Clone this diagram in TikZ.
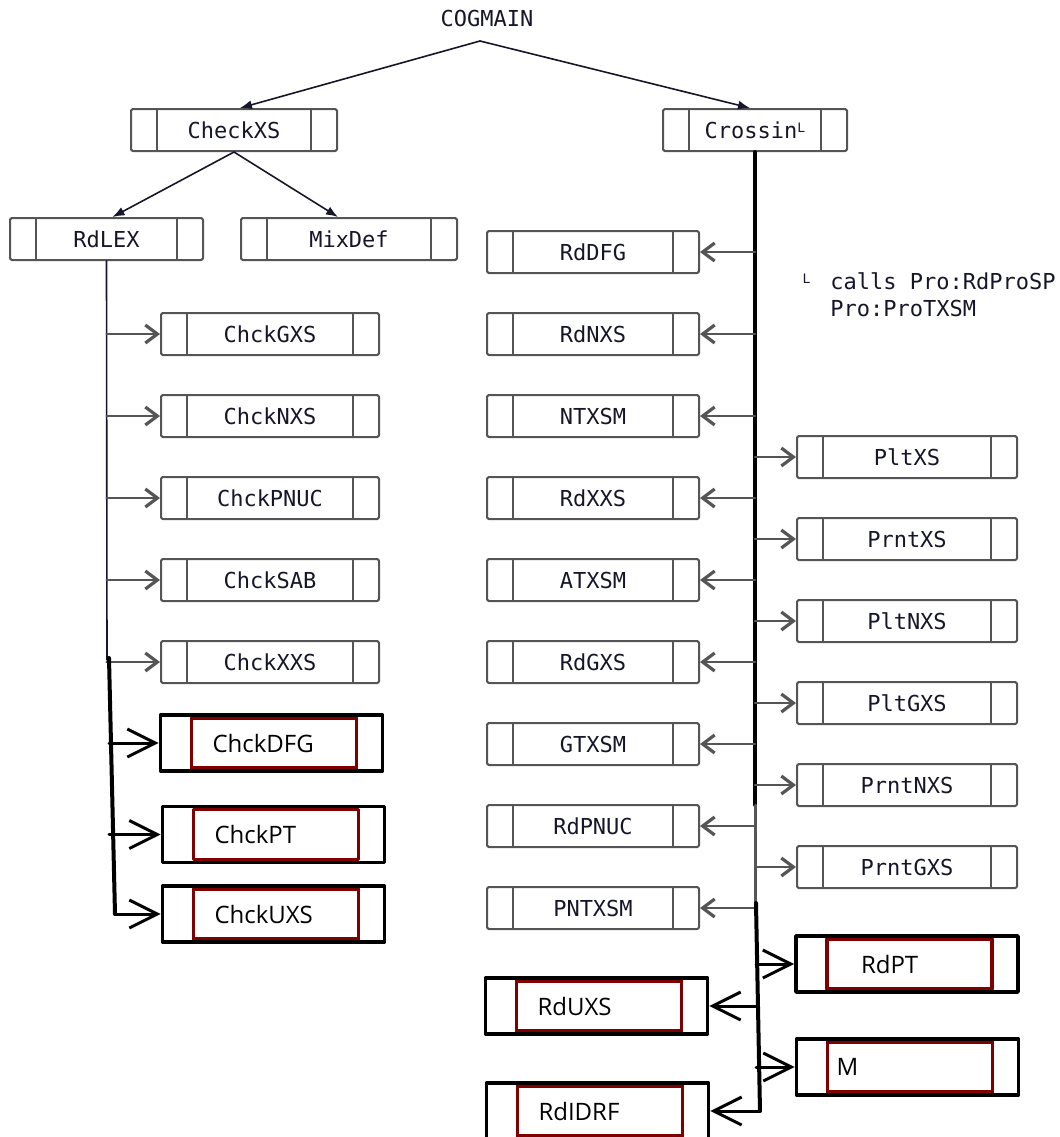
\documentclass[tikz,border=0pt]{standalone}
\usepackage{fontspec}
\usepackage{xcolor}
\usepackage{tikz}
\usetikzlibrary{arrows.meta,positioning,calc}
\newfontfamily\codefont{DejaVu Sans Mono}
\newfontfamily\boxsans{Open Sans}
\definecolor{boxgray}{HTML}{555555}
\definecolor{ink}{HTML}{16162A}
\definecolor{newred}{HTML}{7F0000}
\newcommand{\lmark}{\raisebox{0.5ex}{\fontsize{6.5}{6.5}\selectfont L}}
\tikzset{
    every picture/.style={line cap=round,line join=round},
    callbox/.style={draw=boxgray,line width=1pt,rounded corners=0.8pt,
      minimum height=21pt,inner sep=0pt,text=ink,
      font=\codefont\fontsize{11}{13}\selectfont,
      path picture={\draw[boxgray,line width=1pt]
        ([xshift=13pt]path picture bounding box.north west) --
        ([xshift=13pt]path picture bounding box.south west)
        ([xshift=-13pt]path picture bounding box.north east) --
        ([xshift=-13pt]path picture bounding box.south east);}},
    newbox/.style={draw=black,line width=1.8pt,minimum height=28pt,
      text width=59pt,align=left,inner xsep=26pt,inner ysep=0pt,
      font=\boxsans\fontsize{12}{14}\selectfont,
      path picture={\draw[newred,line width=1.6pt]
        ([shift={(15.5pt,-1.5pt)}]path picture bounding box.north west) rectangle
        ([shift={(-13pt,1.5pt)}]path picture bounding box.south east);}},
    treearrow/.style={-{Latex[length=6pt,width=4.5pt]},draw=ink,line width=0.8pt},
    callarrow/.style={-{Straight Barb[length=6pt,width=9pt,line width=1.6pt]},
      draw=boxgray,line width=1.1pt},
    newarrow/.style={-{Straight Barb[length=14pt,width=14pt,line width=1.5pt]},
      draw=black,line width=1.5pt},
    spine/.style={draw=black,line width=2pt}
}
\begin{document}
\begin{tikzpicture}[x=0.5pt,y=-0.5pt]
  \clip (0,0) rectangle (1060,1137);
  % top of the tree
  \node[font=\codefont\fontsize{11}{13}\selectfont,text=ink] (cogmain) at (487,18) {COGMAIN};
  \coordinate (fork) at (480,41);
  \node[callbox,minimum width=103pt] (checkxs) at (234,130) {CheckXS};
  \node[callbox,minimum width=92pt] (crossin) at (755,130) {Crossin\lmark};
  \draw[treearrow] (fork) -- ([xshift=3pt]checkxs.north);
  \draw[treearrow] (fork) -- ([xshift=-2.5pt]crossin.north);
  \node[callbox,minimum width=96.5pt] (rdlex) at (106.5,239) {RdLEX};
  \node[callbox,minimum width=108pt] (mixdef) at (349,239) {MixDef};
  \draw[treearrow] (checkxs.south) -- ([xshift=3pt]rdlex.north);
  \draw[treearrow] (checkxs.south) -- ([xshift=-5.5pt]mixdef.north);
  \node[font=\codefont\fontsize{11}{13.5}\selectfont,text=ink,align=left,
    anchor=north west,inner sep=0pt] (note) at (830,272)
    {\llap{\lmark\hspace{10pt}}calls Pro:RdProSP\\Pro:ProTXSM};

  % left branch
  \coordinate (ltop) at (109,658);
  \coordinate (lbot) at (115,914);
  \draw[ink,line width=0.8pt] (rdlex.south) -- (107,660);
  \foreach \n/\y/\t in {1/334/ChckGXS,2/416/ChckNXS,3/498/ChckPNUC,4/580/ChckSAB,5/662/ChckXXS} {
    \node[callbox,minimum width=109pt] (chk\n) at (270,\y) {\t};
    \draw[callarrow] (rdlex.south |- chk\n.west) -- (chk\n.west);
  }
  \draw[spine] (ltop) -- (lbot);
  \node[newbox] (chckdfg) at (271.5,743) {ChckDFG};
  \node[newbox] (chckpt) at (273.5,834.5) {ChckPT};
  \node[newbox] (chckuxs) at (273.5,914) {ChckUXS};
  \draw[newarrow] (ltop |- chckdfg.west) -- (chckdfg.west);
  \draw[newarrow] (ltop |- chckpt.west) -- (chckpt.west);
  \draw[newarrow] (lbot) -- (chckuxs.west);

  % right branch
  \coordinate (rmid) at (755,805);
  \coordinate (rtop) at (756,903);
  \coordinate (rbot) at (760,1111);
  \draw[spine] (crossin.south) -- (rmid);
  \foreach \n/\y/\t in {1/252/RdDFG,2/334/RdNXS,3/416/NTXSM,4/498/RdXXS,5/580/ATXSM,
      6/662/RdGXS,7/744/GTXSM,8/826/RdPNUC,9/908/PNTXSM} {
    \node[callbox,minimum width=106pt] (rd\n) at (593,\y) {\t};
    \draw[callarrow] (crossin.south |- rd\n.east) -- (rd\n.east);
  }
  \draw[boxgray,line width=1.5pt] (rmid) -- (crossin.south |- rd9.east);
  \foreach \n/\y/\t in {1/457/PltXS,2/539/PrntXS,3/621/PltNXS,4/703/PltGXS,
      5/785/PrntNXS,6/867/PrntGXS} {
    \node[callbox,minimum width=110pt] (plt\n) at (907,\y) {\t};
    \draw[callarrow] (crossin.south |- plt\n.west) -- (plt\n.west);
  }
  \draw[spine] (rtop) -- (rbot);
  \node[newbox] (rdpt) at (907,964) {\hspace*{6.5pt}RdPT};
  \node[newbox] (rduxs) at (596.5,1006) {RdUXS};
  \node[newbox] (mbox) at (907.5,1067) {\hspace*{-6pt}M};
  \node[newbox] (rdidrf) at (597.5,1111) {RdIDRF};
  \draw[newarrow] (rtop |- rdpt.west) -- (rdpt.west);
  \draw[newarrow] (rtop |- rduxs.east) -- (rduxs.east);
  \draw[newarrow] (rtop |- mbox.west) -- (mbox.west);
  \draw[newarrow] (rbot) -- (rdidrf.east);
\end{tikzpicture}
\end{document}
